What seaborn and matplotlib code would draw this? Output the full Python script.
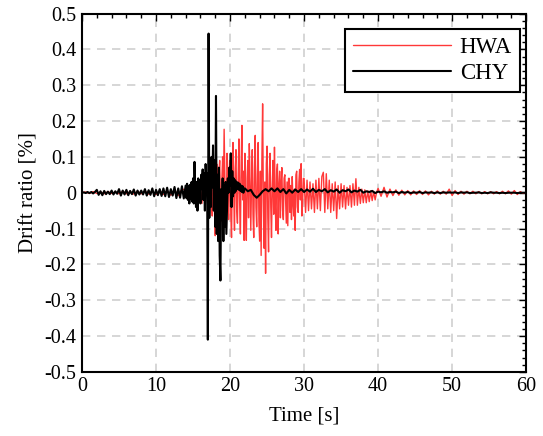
import numpy as np
import pandas as pd
import seaborn as sns
import matplotlib.pyplot as plt
from matplotlib.ticker import MultipleLocator

# Drift ratio [%], each piece has its own start time and sample step [s]
hwa_pre = [
    0.000, 0.002, -0.002, 0.003, -0.002, 0.002, -0.003, 0.003, -0.002, 0.002,
    -0.003, 0.004, -0.003, 0.003, -0.004, 0.004, -0.003, 0.005, -0.004, 0.004,
    -0.005, 0.006, -0.005, 0.006, -0.007, 0.008, -0.008, 0.010,
]
hwa_onset = [
    0.008, -0.012, 0.015, -0.010, 0.018, -0.015, 0.012, -0.020, 0.022, -0.018,
    0.025, -0.030, 0.020, -0.035, 0.030,
]
hwa_strong = [
    -0.020, 0.035, -0.045, 0.010, 0.060, -0.030, -0.065, 0.040, 0.070, -0.050,
    -0.120, -0.040, 0.080, 0.020, -0.060, 0.050, 0.090, -0.030, -0.080, 0.040,
    0.100, -0.020, 0.177, 0.030, -0.095, -0.040, 0.110, 0.050, -0.075, 0.020,
    0.090, -0.060, -0.125, 0.060, 0.140, -0.010, -0.105, 0.070, 0.120, -0.050,
    -0.085, 0.050, 0.150, -0.030, -0.115, 0.080, 0.188, -0.020, 0.060, -0.133,
    0.110, -0.050, -0.133, 0.040, 0.090, -0.070, 0.137, 0.030, -0.105, 0.020,
    0.120, -0.060, -0.125, 0.070, 0.160, -0.040, -0.095, 0.050, 0.140, -0.080,
    -0.135, 0.060, -0.175, 0.090, 0.248, -0.020, -0.155, 0.030, -0.225, 0.080,
    0.130, -0.070, -0.165, 0.050, 0.110, -0.040, -0.125, 0.020, 0.090, -0.060,
    0.127, -0.030, -0.105, 0.060, 0.080, -0.115, 0.020, 0.060, -0.070, 0.030,
    0.070, -0.050, -0.075, 0.040, 0.050, -0.020, -0.085, 0.030, -0.092, 0.040,
    0.040, -0.055, 0.020, -0.075, 0.045, -0.030, -0.065, 0.010, -0.105, 0.050,
    0.060, -0.040, -0.055, 0.030, 0.065, -0.020, 0.081, -0.065, -0.030, 0.040,
]
hwa_coda = [
    0.040, -0.055, 0.035, -0.050, 0.030, -0.045, 0.025, -0.055, 0.035, -0.045,
    0.040, -0.050, 0.045, 0.057, -0.055, 0.053, -0.045, 0.035, -0.055, 0.025,
    -0.050, 0.030, -0.072, 0.020, -0.045, 0.025, -0.040, 0.020, -0.045, 0.015,
    -0.035, 0.020, -0.040, 0.025, -0.035, 0.039, -0.035, 0.015, -0.030, 0.010,
    -0.028, 0.008, -0.028, 0.005, -0.025, 0.005, -0.022, 0.004, -0.020, 0.002,
]
hwa_tail = [
    0.012, -0.010, 0.015, -0.012, 0.010, -0.008, 0.008, -0.007, 0.007, -0.006,
    0.006, -0.006, 0.005, -0.005, 0.006, -0.005, 0.005, -0.006, 0.004, -0.004,
    0.005, -0.004, 0.004, -0.004, 0.010, -0.008, 0.006, -0.005, 0.004, -0.004,
    0.004, -0.003, 0.004, -0.003, 0.003, -0.003, 0.003, -0.003, 0.003, -0.003,
    0.003, -0.003, 0.004, -0.003, 0.005, -0.004, 0.006, -0.005, 0.003, -0.002,
    0.001,
]

chy_pre = [
    0.000, 0.001, -0.001, 0.002, -0.001, 0.002, -0.002, 0.002,
    0.008, -0.006, 0.004, -0.007, 0.005, -0.004, 0.003, -0.004, 0.006, -0.005, 0.004, -0.003,
    0.010, -0.008, 0.006, -0.005, 0.008, -0.007, 0.005, -0.004, 0.009, -0.008, 0.006, -0.005,
    0.006, -0.005, 0.010, -0.008, 0.007, -0.006, 0.012, -0.010, 0.008, -0.007, 0.010, -0.009,
    0.012, -0.010, 0.014, -0.012, 0.010, -0.008, 0.016, -0.015, 0.012, -0.014, 0.018, -0.016,
]
chy_main = [
    0.020, -0.015, 0.025, -0.020, 0.018, -0.030, 0.022, -0.018, 0.030, -0.025,
    0.040, -0.030, 0.086, 0.010, -0.040, 0.030, -0.050, 0.040, -0.020, 0.035,
    -0.030, 0.050, 0.010, 0.065, -0.020, 0.055, -0.050, 0.080, 0.020, 0.055,
    -0.410, 0.444, -0.070, 0.075, -0.040, 0.100, 0.015, 0.132, -0.050, 0.090,
    -0.095, 0.270, -0.115, 0.050, -0.135, 0.070, -0.175, -0.245, 0.010, -0.075,
    0.040, -0.135, 0.020, -0.095, 0.030, -0.115, -0.035, 0.040, 0.000, 0.070,
    0.020, 0.110, -0.040, 0.060, -0.010, 0.040, 0.000, 0.035, 0.005, 0.030,
    0.010, 0.028, 0.008, 0.025, 0.005, 0.020, 0.002, 0.018, 0.000, 0.012,
]
chy_tail = [
    0.012, 0.004, 0.008, -0.006, -0.014, -0.006, 0.004, 0.010, 0.004, 0.012,
    0.004, 0.012, 0.002, 0.010, -0.002, 0.008, 0.000, 0.009, 0.002, 0.010,
    0.002, 0.009, 0.003, 0.011, 0.002, 0.008, 0.004, 0.010, 0.001, 0.007,
    0.003, 0.009, 0.000, 0.007, 0.004, 0.009, 0.001, 0.006, 0.003, 0.008,
    0.000, 0.004, 0.002, 0.005, -0.001, 0.003, 0.001, 0.004, 0.000, 0.002,
    0.001, 0.003, -0.001, 0.002, 0.000, 0.002, -0.001, 0.001, 0.000, 0.002,
    -0.001, 0.001, 0.000, 0.001, -0.001, 0.001, -0.001, 0.001, 0.000, 0.001,
    0.000, 0.001, -0.001, 0.001, 0.000, 0.001, -0.001, 0.000, 0.000, 0.001,
    -0.001, 0.000, -0.001, 0.001, 0.000, 0.000, -0.001, 0.000, -0.001, 0.000,
    0.000, 0.000, -0.001, 0.000, 0.000, 0.000,
]

hwa_pieces = [(0.0, 0.5, hwa_pre), (14.0, 0.2, hwa_onset), (17.0, 0.1, hwa_strong),
              (30.0, 0.2, hwa_coda), (40.0, 0.4, hwa_tail)]
chy_pieces = [(0.0, 0.25, chy_pre), (14.0, 0.1, chy_main), (22.0, 0.4, chy_tail)]

y_ticks = [-0.5, -0.4, -0.3, -0.2, -0.1, 0.0, 0.1, 0.2, 0.3, 0.4, 0.5]
y_ticklabels = ["-0.5", "-0.4", "-0.3", "-0.2", "-0.1", "0",
                "0.1", "0.2", "0.3", "0.4", "0.5"]


def to_frame(pieces: list, name: str) -> pd.DataFrame:
    """Stack the sampled pieces of one record into a long table."""
    frames = []
    for start, step, vals in pieces:
        t = start + step * np.arange(len(vals))
        frames.append(pd.DataFrame({"time": t, "drift": vals}))
    df = pd.concat(frames, ignore_index=True)
    df["record"] = name
    return df


sns.set_theme(style="white")
plt.rcParams["font.family"] = ["Liberation Serif", "DejaVu Serif"]
plt.rcParams.update({"text.color": "black", "axes.labelcolor": "black",
                     "xtick.color": "black", "ytick.color": "black"})

fig = plt.figure(figsize=(5.43, 4.36), dpi=100)
ax = fig.add_axes([0.151, 0.147, 0.818, 0.822])

hwa = to_frame(hwa_pieces, "HWA")
chy = to_frame(chy_pieces, "CHY")
sns.lineplot(data=hwa, x="time", y="drift", color="#ff3838", lw=1.0,
             estimator=None, label="HWA", ax=ax)
sns.lineplot(data=chy, x="time", y="drift", color="black", lw=1.5,
             estimator=None, label="CHY", ax=ax)

ax.set_xlim(0, 60)
ax.set_ylim(-0.5, 0.5)
ax.xaxis.set_major_locator(MultipleLocator(10))
ax.xaxis.set_minor_locator(MultipleLocator(2))
ax.set_yticks(y_ticks)
ax.set_yticklabels(y_ticklabels)
ax.yaxis.set_minor_locator(MultipleLocator(0.02))
ax.tick_params(which="both", direction="in", top=True, right=True,
               labelsize=14.5, width=1.0, color="black", labelcolor="black",
               pad=4)
ax.tick_params(which="major", length=5)
ax.tick_params(which="minor", length=3)
ax.grid(True, which="major", ls=(0, (5, 4)), color="#d0d0d0", lw=1.2)
for s in ax.spines.values():
    s.set_color("black")
    s.set_linewidth(1.5)

ax.set_xlabel("Time [s]", fontsize=15, labelpad=7, color="black")
ax.set_ylabel("Drift ratio [%]", fontsize=15, labelpad=4, color="black")

leg = ax.legend(loc="upper right", bbox_to_anchor=(0.986, 0.957),
                borderaxespad=0, fontsize=16.5, handlelength=4.25,
                frameon=True, fancybox=False, framealpha=1,
                edgecolor="black", borderpad=0.35,
                labelspacing=0.2, handletextpad=0.4)
leg.get_frame().set_linewidth(1.5)
for txt in leg.get_texts():
    txt.set_color("black")

fig.savefig("out.png", dpi=100)
